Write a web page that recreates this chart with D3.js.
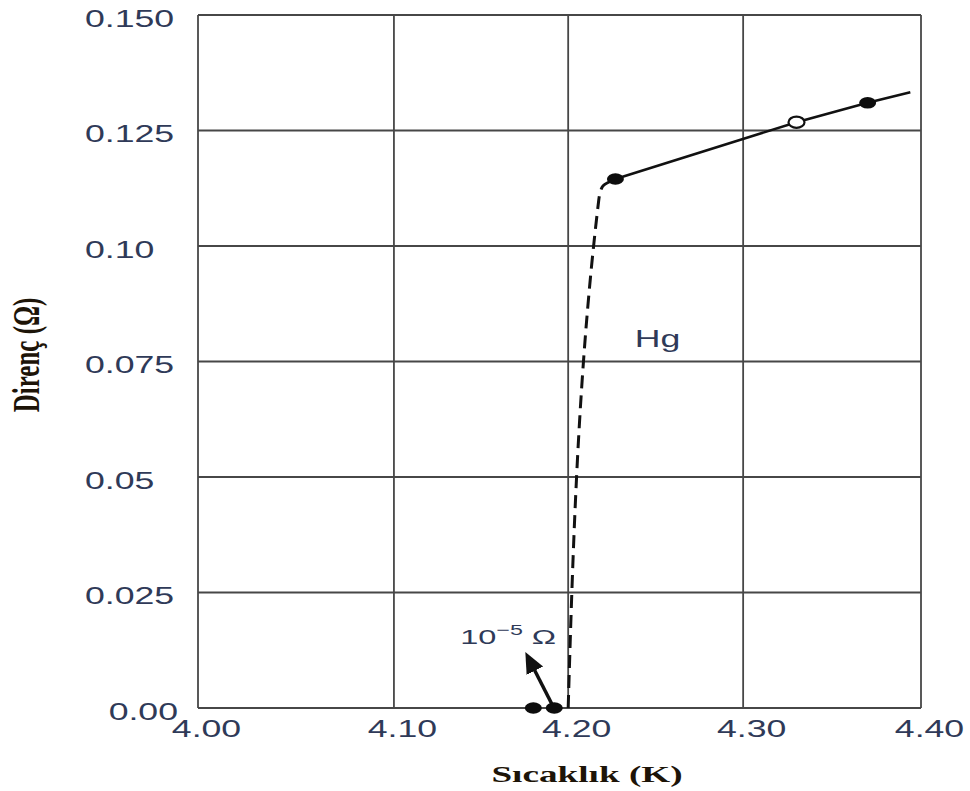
<!DOCTYPE html>
<html>
<head>
<meta charset="utf-8">
<script src="https://cdn.jsdelivr.net/npm/d3@7"></script>
<style>
  html, body { margin: 0; padding: 0; background: #ffffff; }
  svg { display: block; }
</style>
</head>
<body>
<script>
// Resistance of mercury near its superconducting transition
const xTicks = [4.00, 4.10, 4.20, 4.30, 4.40];
const xTickLabels = ["4.00", "4.10", "4.20", "4.30", "4.40"];
const yTicks = [0, 0.025, 0.05, 0.075, 0.10, 0.125, 0.150];
const yTickLabels = ["0.00", "0.025", "0.05", "0.075", "0.10", "0.125", "0.150"];

// measured points (temperature K, resistance Ω)
const filledTemps = [4.180, 4.192, 4.227, 4.370];
const filledRes   = [0.000, 0.000, 0.1145, 0.1310];
const openTemps = [4.330];
const openRes   = [0.1268];

// normal-state line above Tc
const normalTemps = [4.227, 4.330, 4.370, 4.394];
const normalRes   = [0.1145, 0.1268, 0.1310, 0.1333];

// dashed drop through the transition
const dropTemps = [4.200, 4.2175, 4.2195, 4.227];
const dropRes   = [0.000, 0.1100, 0.1128, 0.1145];

// 10^-5 Ω arrow (tail, head)
const arrowTemps = [4.191, 4.1776];
const arrowRes   = [0.0006, 0.0105];

const W = 970, H = 791;
const margin = { left: 198, top: 15, right: 49, bottom: 83 };
const pw = W - margin.left - margin.right;
const ph = H - margin.top - margin.bottom;
const stretch = 1.55;            // wide lettering
const tickColor = "#2f3a58";
const titleColor = "#1d1408";

const svg = d3.select("body").append("svg")
  .attr("width", W).attr("height", H);

const defs = svg.append("defs");
defs.append("marker")
  .attr("id", "arrowhead")
  .attr("viewBox", "0 0 10 10")
  .attr("refX", 6).attr("refY", 5)
  .attr("markerWidth", 6).attr("markerHeight", 6)
  .attr("orient", "auto")
  .append("path")
  .attr("d", "M0,0.6 L10,5 L0,9.4 Z")
  .attr("fill", "#111");

const g = svg.append("g")
  .attr("transform", `translate(${margin.left},${margin.top})`);

// the temperature grid is not evenly spaced on this sheet
const x = d3.scaleLinear()
  .domain(xTicks)
  .range([0, 0.271, 0.512, 0.754, 1].map(f => f * pw));
const y = d3.scaleLinear().domain([0, 0.150]).range([ph, 0]);

// grid
g.append("g").selectAll("line").data(yTicks).join("line")
  .attr("x1", 0).attr("x2", pw)
  .attr("y1", d => y(d)).attr("y2", d => y(d))
  .attr("stroke", "#474747").attr("stroke-width", 1.8);
g.append("g").selectAll("line").data(xTicks).join("line")
  .attr("x1", d => x(d)).attr("x2", d => x(d))
  .attr("y1", 0).attr("y2", ph)
  .attr("stroke", "#474747").attr("stroke-width", 1.8);

// x axis labels
const xAxis = g.append("g")
  .attr("transform", `translate(0,${ph})`)
  .call(d3.axisBottom(x).tickValues(xTicks)
    .tickFormat((d, i) => xTickLabels[i]).tickSize(0).tickPadding(0));
xAxis.select(".domain").remove();
xAxis.selectAll("text")
  .attr("y", 29).attr("dy", 0)
  .attr("dx", 8 / stretch)
  .attr("transform", `scale(${stretch},1)`)
  .attr("font-family", "Liberation Sans, Arial, sans-serif")
  .attr("font-size", 23)
  .attr("fill", tickColor);

// y axis labels
const yAxis = g.append("g")
  .call(d3.axisLeft(y).tickValues(yTicks)
    .tickFormat((d, i) => yTickLabels[i]).tickSize(0).tickPadding(0));
yAxis.select(".domain").remove();
yAxis.selectAll("text")
  .attr("text-anchor", d => d === 0 ? "end" : "start")
  .attr("x", d => (d === 0 ? -20 : -113) / stretch)
  .attr("dy", "0.48em")
  .attr("transform", `scale(${stretch},1)`)
  .attr("font-family", "Liberation Sans, Arial, sans-serif")
  .attr("font-size", 23)
  .attr("fill", tickColor);

// dashed transition
const line = d3.line().x(d => x(d[0])).y(d => y(d[1]));
const curved = d3.line().x(d => x(d[0])).y(d => y(d[1])).curve(d3.curveMonotoneY);
g.append("path")
  .datum(dropTemps.map((t, i) => [t, dropRes[i]]))
  .attr("d", curved)
  .attr("fill", "none").attr("stroke", "#111")
  .attr("stroke-width", 3).attr("stroke-dasharray", "13,7");

// normal-state line
g.append("path")
  .datum(normalTemps.map((t, i) => [t, normalRes[i]]))
  .attr("d", line)
  .attr("fill", "none").attr("stroke", "#111").attr("stroke-width", 2.6);

// arrow to the 10^-5 Ω points
g.append("path")
  .datum(arrowTemps.map((t, i) => [t, arrowRes[i]]))
  .attr("d", line)
  .attr("fill", "none").attr("stroke", "#111").attr("stroke-width", 3.5)
  .attr("marker-end", "url(#arrowhead)");

// points
g.append("g").selectAll("ellipse")
  .data(filledTemps.map((t, i) => [t, filledRes[i]])).join("ellipse")
  .attr("cx", d => x(d[0])).attr("cy", d => y(d[1]))
  .attr("rx", 8.5).attr("ry", 5.8)
  .attr("fill", "#0d0d0d");
g.append("g").selectAll("ellipse")
  .data(openTemps.map((t, i) => [t, openRes[i]])).join("ellipse")
  .attr("cx", d => x(d[0])).attr("cy", d => y(d[1]))
  .attr("rx", 8).attr("ry", 5.6)
  .attr("fill", "#fff").attr("stroke", "#111").attr("stroke-width", 2.2);

// labels inside the plot
g.append("text")
  .attr("transform", `translate(${x(4.238)},${y(0.0781)}) scale(${stretch},1)`)
  .attr("font-family", "Liberation Sans, Arial, sans-serif")
  .attr("font-size", 23)
  .attr("fill", tickColor)
  .text("Hg");

const note = g.append("text")
  .attr("transform", `translate(${x(4.138)},${y(0.0139)}) scale(${stretch},1)`)
  .attr("font-family", "Liberation Sans, Arial, sans-serif")
  .attr("font-size", 21)
  .attr("fill", tickColor);
note.append("tspan").text("10");
note.append("tspan").attr("font-size", 15).attr("dy", -9).text("−5");
note.append("tspan").attr("dy", 9).text(" Ω");

// axis titles
svg.append("text")
  .attr("transform", `translate(587,782) scale(${stretch},1)`)
  .attr("text-anchor", "middle")
  .attr("font-family", "Liberation Serif, Times New Roman, serif")
  .attr("font-weight", "bold")
  .attr("font-size", 24)
  .attr("fill", titleColor)
  .text("Sıcaklık (K)");

svg.append("text")
  .attr("transform", `translate(39,355) rotate(-90) scale(1,${stretch})`)
  .attr("text-anchor", "middle")
  .attr("font-family", "Liberation Serif, Times New Roman, serif")
  .attr("font-weight", "bold")
  .attr("font-size", 25)
  .attr("fill", titleColor)
  .text("Direnç (Ω)");
</script>
</body>
</html>
